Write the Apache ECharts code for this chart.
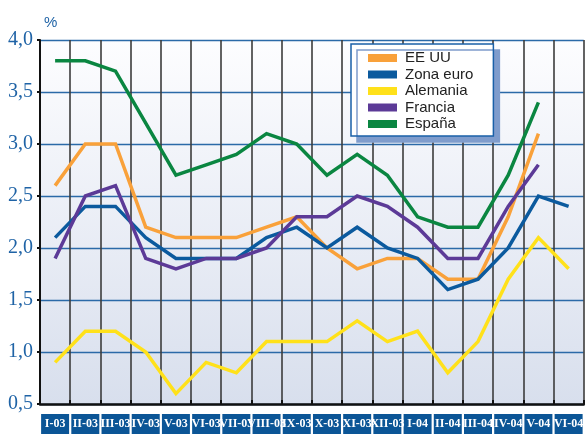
<!DOCTYPE html>
<html>
<head>
<meta charset="utf-8">
<title>Inflación</title>
<script src="https://cdn.jsdelivr.net/npm/echarts@6.0.0/dist/echarts.min.js"></script>
<style>
  html, body { margin: 0; padding: 0; background: #fff; }
  #chart { width: 586px; height: 434px; }
</style>
</head>
<body>
<div id="chart"></div>
<script>
  // --- Data ---
  var categories = ['I-03', 'II-03', 'III-03', 'IV-03', 'V-03', 'VI-03', 'VII-03', 'VIII-03', 'IX-03',
    'X-03', 'XI-03', 'XII-03', 'I-04', 'II-04', 'III-04', 'IV-04', 'V-04', 'VI-04'];
  var eeuu     = [2.6, 3.0, 3.0, 2.2, 2.1, 2.1, 2.1, 2.2, 2.3, 2.0, 1.8, 1.9, 1.9, 1.7, 1.7, 2.3, 3.1, null];
  var zonaEuro = [2.1, 2.4, 2.4, 2.1, 1.9, 1.9, 1.9, 2.1, 2.2, 2.0, 2.2, 2.0, 1.9, 1.6, 1.7, 2.0, 2.5, 2.4];
  var alemania = [0.9, 1.2, 1.2, 1.0, 0.6, 0.9, 0.8, 1.1, 1.1, 1.1, 1.3, 1.1, 1.2, 0.8, 1.1, 1.7, 2.1, 1.8];
  var francia  = [1.9, 2.5, 2.6, 1.9, 1.8, 1.9, 1.9, 2.0, 2.3, 2.3, 2.5, 2.4, 2.2, 1.9, 1.9, 2.4, 2.8, null];
  var espana   = [3.8, 3.8, 3.7, 3.2, 2.7, 2.8, 2.9, 3.1, 3.0, 2.7, 2.9, 2.7, 2.3, 2.2, 2.2, 2.7, 3.4, null];

  var seriesDefs = [
    { name: 'EE UU', data: eeuu, color: '#f9a13a' },
    { name: 'Zona euro', data: zonaEuro, color: '#0b5a9e' },
    { name: 'Alemania', data: alemania, color: '#ffe11a' },
    { name: 'Francia', data: francia, color: '#5c3a97' },
    { name: 'España', data: espana, color: '#0a8641' }
  ];

  var chart = echarts.init(document.getElementById('chart'), null, { renderer: 'canvas' });

  var option = {
    animation: false,
    grid: {
      left: 40,
      top: 40,
      width: 554,
      height: 365,
      show: true,
      borderWidth: 0,
      backgroundColor: {
        type: 'linear', x: 0, y: 0, x2: 0, y2: 1,
        colorStops: [
          { offset: 0, color: '#fdfdff' },
          { offset: 1, color: '#d8dfed' }
        ]
      }
    },
    legend: {
      left: 351,
      top: 44,
      orient: 'vertical',
      selectedMode: false,
      icon: 'rect',
      itemWidth: 29,
      itemHeight: 8,
      itemGap: 0.5,
      padding: [6, 20, 4, 17],
      backgroundColor: '#fff',
      borderColor: '#1a60a8',
      borderWidth: 1.5,
      shadowColor: '#7f9ccc',
      shadowBlur: 0,
      shadowOffsetX: 6,
      shadowOffsetY: 6,
      textStyle: {
        fontFamily: 'Liberation Sans',
        fontSize: 15,
        lineHeight: 16,
        color: '#222',
        padding: [0, 0, 0, 3]
      },
      data: seriesDefs.map(function (s) { return s.name; })
    },
    // first axis draws the blue label boxes, second one writes the text over them
    xAxis: [{
      type: 'category',
      data: categories,
      boundaryGap: true,
      axisLine: { lineStyle: { color: '#111', width: 2.5 } },
      axisTick: { show: true, inside: true, length: 4, interval: 0, lineStyle: { color: '#111', width: 2 } },
      splitLine: { show: true, interval: 0, lineStyle: { color: '#3c3c3c', width: 1.6 } },
      axisLabel: {
        interval: 0,
        margin: 10,
        width: 28,
        height: 20,
        lineHeight: 20,
        align: 'center',
        verticalAlign: 'top',
        backgroundColor: '#0b5596',
        color: 'rgba(0,0,0,0)',
        formatter: function () { return ' '; }
      }
    }, {
      type: 'category',
      data: categories,
      position: 'bottom',
      boundaryGap: true,
      axisLine: { show: false },
      axisTick: { show: false },
      splitLine: { show: false },
      axisLabel: {
        interval: 0,
        hideOverlap: false,
        margin: 10,
        lineHeight: 20,
        align: 'center',
        verticalAlign: 'top',
        color: '#fff',
        fontFamily: 'Liberation Serif',
        fontWeight: 'bold',
        fontSize: 12
      }
    }],
    yAxis: {
      type: 'value',
      min: 0.5,
      max: 4,
      interval: 0.5,
      name: '%',
      nameLocation: 'end',
      nameGap: 10,
      nameTextStyle: {
        color: '#1f63a6',
        fontFamily: 'Liberation Sans',
        fontSize: 15,
        align: 'left',
        padding: [0, 0, 0, 4]
      },
      axisLine: { show: true, lineStyle: { color: '#111', width: 2 } },
      axisTick: { show: true, length: 3, lineStyle: { color: '#111', width: 2 } },
      splitLine: { show: true, lineStyle: { color: '#2b6aa8', width: 1.3 } },
      axisLabel: {
        margin: 7,
        color: '#1f63a6',
        fontFamily: 'Liberation Serif',
        fontSize: 20,
        formatter: function (v) { return v.toFixed(1).replace('.', ','); }
      }
    },
    series: seriesDefs.map(function (s) {
      return {
        name: s.name,
        type: 'line',
        xAxisIndex: 0,
        data: s.data,
        showSymbol: false,
        symbol: 'none',
        color: s.color,
        itemStyle: { color: s.color },
        lineStyle: { color: s.color, width: 3.5, join: 'miter' }
      };
    })
  };

  chart.setOption(option);
</script>
</body>
</html>
